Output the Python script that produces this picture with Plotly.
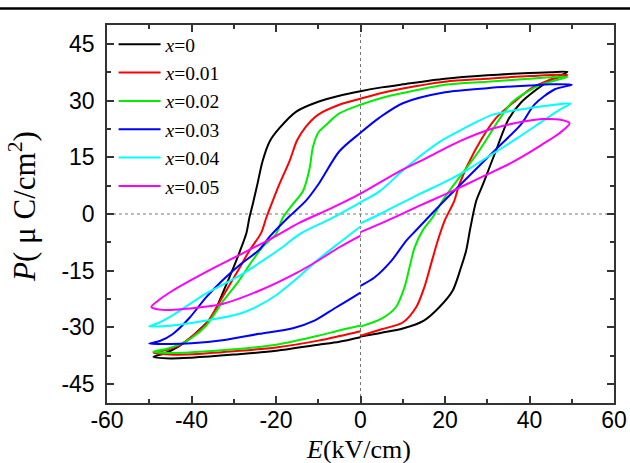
import plotly.graph_objects as go

# ---------------- data ----------------
labels = ["<i>x</i>=0", "<i>x</i>=0.01", "<i>x</i>=0.02", "<i>x</i>=0.03", "<i>x</i>=0.04", "<i>x</i>=0.05"]
colors = ["#000000", "#ff0000", "#00ee00", "#0000ff", "#00ffff", "#ff00ff"]

x_tickvals = [-60, -40, -20, 0, 20, 40, 60]
y_tickvals = [-45, -30, -15, 0, 15, 30, 45]

# each loop: lower branch 0 -> +Emax, upper branch +Emax -> -Emax, lower branch -Emax -> 0
E_x000 = [0, 5, 10, 15, 18.7, 21.8, 23.8, 25, 26, 27.4, 29, 32, 35, 38, 41.5, 45, 49,
          45, 40, 30, 20, 10, 5, 0, -5, -10, -15.2, -19.2, -21.5, -23.2, -24.4, -25.5, -26.3, -27, -28.6, -30, -31.7, -33.4, -35, -38, -40.5, -43, -46, -49,
          -45, -40, -30, -20, -10, -5, 0]
P_x000 = [-32.4, -31.4, -30.3, -28.2, -24.6, -20.3, -14.1, -9.7, -3.7, 3.5, 7.9, 16.6, 25, 29.5, 32.8, 35.5, 37.6,
          37.5, 37.3, 36.7, 35.8, 34.3, 33.5, 32.5, 31.3, 29.7, 27.1, 22.7, 19.2, 13.9, 7.9, 2.6, -1, -5, -10, -14, -18.5, -23, -27, -30.5, -33, -35, -36.7, -37.8,
          -38.2, -38, -37.2, -36.2, -34.6, -33.8, -32.6]

E_x001 = [0, 5, 10, 13.2, 15.1, 16.7, 18.3, 19.9, 22.2, 23.4, 27, 32, 36.4, 40.5, 44.3, 49,
          40, 30, 20, 10, 5, 0, -5, -10, -13, -15, -16.8, -19.2, -20.8, -22.3, -23.5, -26.3, -28.6, -32.7, -36.5, -40, -42.8, -46, -49,
          -45, -40, -30, -20, -10, -5, 0]
P_x001 = [-32.2, -30.5, -28.7, -24.6, -19.4, -13.2, -7, -1.8, 3.5, 7.9, 16.6, 25.3, 29.7, 33.3, 35.3, 36.8,
          36.5, 35.8, 35, 33.2, 32, 30.5, 28.9, 26.3, 23, 19.5, 14, 7.9, 3.4, -1, -5, -9.7, -14.2, -22, -29, -32.5, -34.7, -36, -36.7,
          -37.2, -37.1, -36.3, -35.3, -33.5, -32.3, -31]

E_x002 = [0, 5, 8.4, 10.4, 11.6, 12.8, 14.7, 17, 19.4, 22.2, 28, 33, 36, 42.4, 49,
          40, 30, 20, 10, 5, 0, -5, -8.1, -10, -11.3, -12, -13.6, -16, -18.4, -20, -23, -26, -29, -32.5, -36.5, -40, -42.8, -46, -49,
          -45, -40, -30, -20, -10, -5, 0]
P_x002 = [-29.8, -27.7, -24.6, -19.4, -14.1, -8.9, -4.4, -1, 3.5, 7.9, 16.6, 25.3, 29.7, 34.1, 36.3,
          35.8, 35, 34.2, 32, 30.7, 28.9, 26.6, 23.6, 21.5, 17.5, 12.3, 6.1, 2.6, -1, -5.3, -8.5, -13, -18, -23, -29.5, -32.8, -34.5, -35.7, -36.4,
          -36.8, -36.6, -35.8, -34.6, -32.2, -30.8, -29.5]

E_x003 = [0, 3.3, 7.3, 10.8, 13, 16.8, 20, 22.5, 27, 32.4, 38, 41.2, 46, 50,
          45, 40, 30, 20, 10, 4.5, 0, -5, -10, -13, -17, -21.5, -24, -28.6, -32.7, -36.5, -40.5, -44.5, -47.5, -50,
          -45, -40, -32.7, -24, -16, -10.9, -6.2, -2.2, 0]
P_x003 = [-19, -16.8, -12.4, -7.1, -4.5, 0, 3.7, 6.5, 11.5, 17.5, 23.7, 29, 33, 34.2,
          34.3, 34, 33.3, 32.2, 29.3, 25.5, 21.5, 16.6, 7.8, 3.4, -0.8, -6, -9.5, -13.5, -17.6, -22, -27.5, -31.8, -33.6, -34.3,
          -34.4, -34.2, -33.4, -31.7, -30.2, -28.2, -25, -22.3, -20.8]

E_x004 = [0, 5, 9.2, 14, 20, 25, 31, 37, 43, 47, 49.7,
          45, 42.4, 37, 31.3, 27, 23.4, 19, 15.6, 10, 4.5, 0, -7, -14.4, -19, -24, -28.6, -36.5, -44.5, -48, -50,
          -44.5, -36.5, -28.6, -24, -20, -15, -10.4, -5, 0]
P_x004 = [-2.5, 0.2, 2.6, 5.3, 8.5, 11.5, 15.7, 20, 24.5, 27.5, 29.2,
          28.8, 28.4, 27.5, 26.3, 24.1, 22, 19.3, 16.6, 11.5, 6, 3.1, -1.2, -5.3, -9.2, -13, -16.3, -21, -26.8, -28.9, -29.7,
          -29.5, -28.2, -26.4, -24.2, -21.5, -17, -12.4, -7.6, -3.3]

E_x005 = [0, 5, 9.2, 14, 20, 25, 30, 35.3, 40, 43, 47, 49.5,
          47, 43, 39.3, 31.3, 23.4, 15.6, 9.2, 0, -7, -14.4, -20.8, -28.6, -36.5, -44.5, -48, -49.5,
          -47.6, -45, -40.5, -32.7, -24, -15, -10, -5, 0]
P_x005 = [-4.8, -2.4, -0.3, 2.2, 5.2, 7.8, 10.5, 13.3, 16.3, 18.4, 21.3, 24,
          25, 25.1, 24.6, 22.6, 19.2, 14.8, 11.3, 5.4, 1.5, -2.3, -6.3, -10.8, -15.3, -20.3, -23, -24.6,
          -25.3, -25.4, -25, -23.8, -20.3, -15.5, -12.3, -8.8, -5.7]

E_series = [E_x000, E_x001, E_x002, E_x003, E_x004, E_x005]
P_series = [P_x000, P_x001, P_x002, P_x003, P_x004, P_x005]

# ---------------- figure ----------------
fig = go.Figure()
for name, col, ex, py in zip(labels, colors, E_series, P_series):
    fig.add_trace(go.Scatter(x=ex, y=py, mode="lines", name=name,
                             line=dict(color=col, width=2, shape="spline", smoothing=0.8)))

axis_col = "#333333"
tickfont = dict(family="Liberation Sans, Arial, sans-serif", size=23, color="black")

fig.update_xaxes(range=[-60, 60], tickvals=x_tickvals, ticktext=[str(v) for v in x_tickvals],
                 ticks="inside", ticklen=7, tickwidth=1.5, tickcolor=axis_col,
                 showline=True, linecolor=axis_col, linewidth=1.5, mirror="ticks",
                 showgrid=False, zeroline=False, tickfont=tickfont, ticklabelstandoff=-4,
                 automargin=False,
                 minor=dict(dtick=10, tick0=-60, ticks="inside", ticklen=4, tickwidth=1.5,
                            tickcolor=axis_col, showgrid=False))
fig.update_yaxes(range=[-50, 50], tickvals=y_tickvals, ticktext=[str(v) for v in y_tickvals],
                 ticks="inside", ticklen=7, tickwidth=1.5, tickcolor=axis_col,
                 showline=True, linecolor=axis_col, linewidth=1.5, mirror="ticks",
                 showgrid=False, zeroline=False, tickfont=tickfont, ticklabelstandoff=6,
                 automargin=False,
                 minor=dict(dtick=7.5, tick0=0, ticks="inside", ticklen=4, tickwidth=1.5,
                            tickcolor=axis_col, showgrid=False))

# dotted zero lines
fig.add_shape(type="line", xref="x", yref="y", x0=0, x1=0, y0=-50, y1=50,
              line=dict(color="#777777", width=1, dash="dot"), layer="below")
fig.add_shape(type="line", xref="x", yref="y", x0=-60, x1=60, y0=0, y1=0,
              line=dict(color="#777777", width=1, dash="dot"), layer="below")
# black rule at the top of the figure
fig.add_shape(type="line", xref="paper", yref="paper", x0=-0.215, x1=1.035, y0=1.0437, y1=1.0437,
              line=dict(color="black", width=2.5))

serif = "Liberation Serif, Times New Roman, serif"
fig.add_annotation(text="<i>E</i>(kV/cm)", xref="paper", yref="paper", x=0.497, y=-0.124,
                   xanchor="center", yanchor="middle", showarrow=False,
                   font=dict(family=serif, size=26, color="black"))
fig.add_annotation(text="<i>P</i>( μ C/cm<sup>2</sup>)", xref="paper", yref="paper", x=-0.168, y=0.521,
                   xanchor="center", yanchor="middle", showarrow=False, textangle=-90,
                   font=dict(family=serif, size=31, color="black"))

fig.update_layout(
    width=630, height=463,
    margin=dict(l=107, r=16, t=25, b=60),
    paper_bgcolor="white", plot_bgcolor="white",
    showlegend=True,
    legend=dict(x=0.013, y=1.0, xanchor="left", yanchor="top", bgcolor="rgba(0,0,0,0)",
                borderwidth=0, font=dict(family=serif, size=19.5, color="black"),
                itemwidth=42, tracegroupgap=0),
)

fig.write_html("out.html", config={"displayModeBar": False},
               post_script="document.body.style.margin='0px';")
